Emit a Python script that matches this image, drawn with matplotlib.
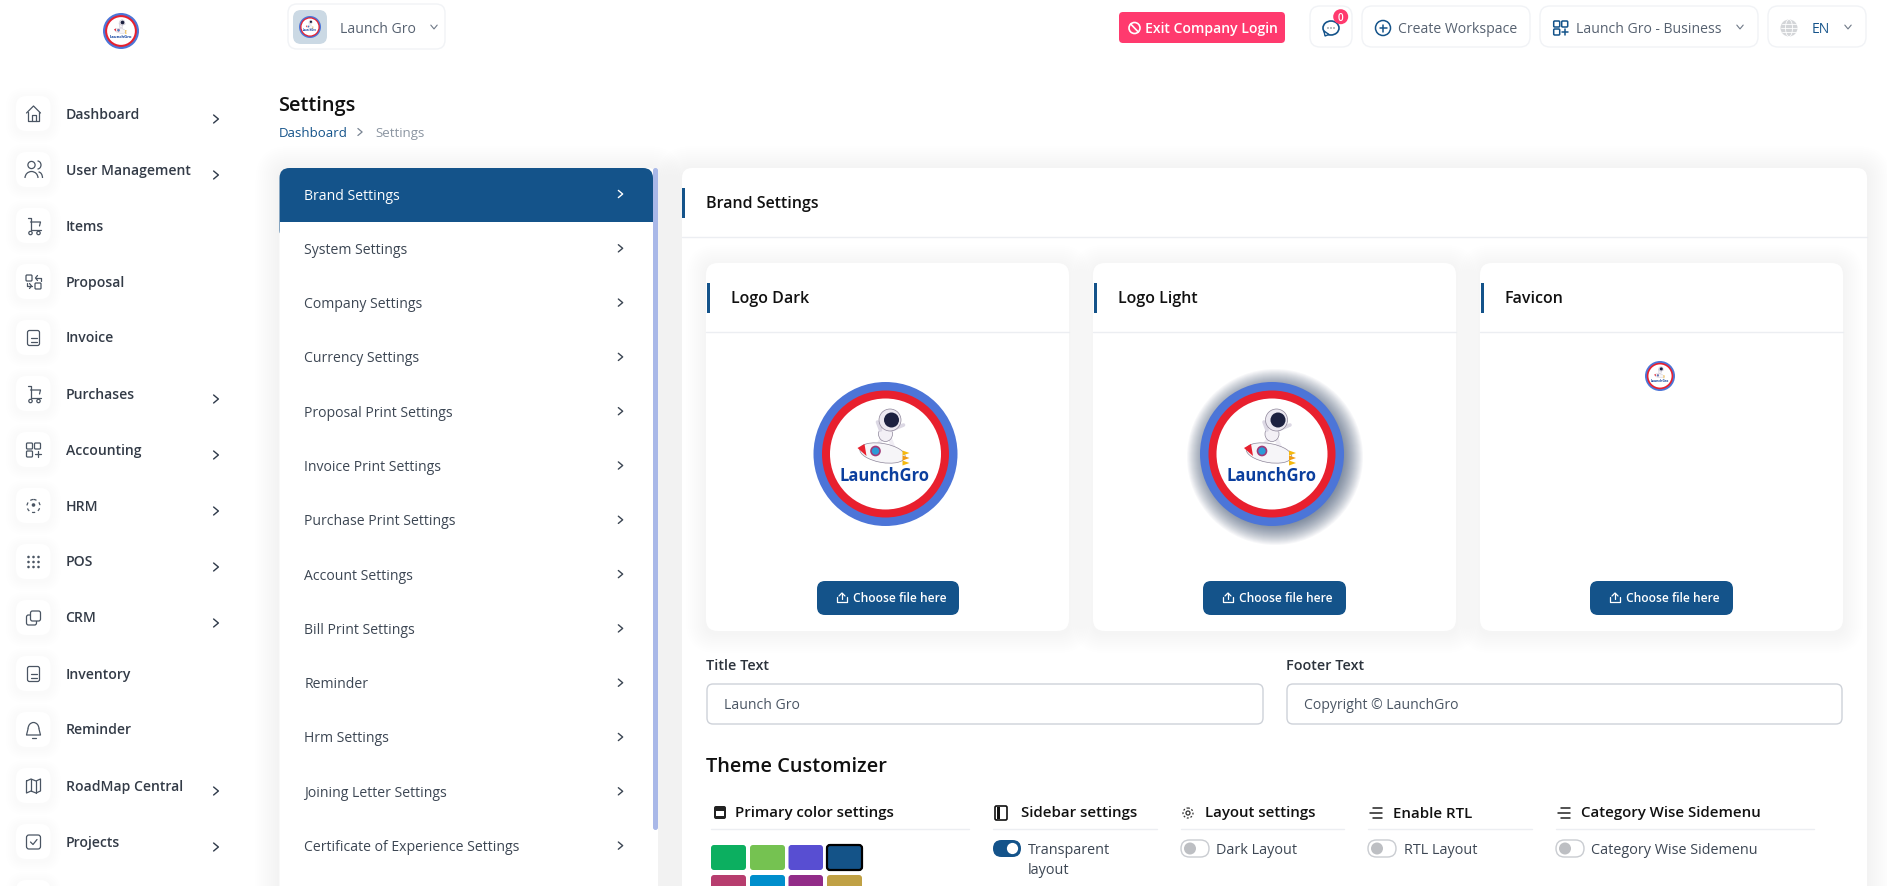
#!/usr/bin/env python3
"""Settings page of the LaunchGro dashboard, drawn in pixel coordinates."""

import numpy as np
import matplotlib
matplotlib.use("Agg")
import matplotlib.pyplot as plt
from matplotlib.patches import Circle, Ellipse, FancyBboxPatch, Polygon, Rectangle, Arc

W, H = 1887, 886
plt.rcParams["font.family"] = ["Open Sans", "DejaVu Sans"]

NAVY = "#14538a"
INK = "#2f3a4a"
BORDER = "#f1f3f6"

SIDEBAR_ITEMS = ["Dashboard", "User Management", "Items", "Proposal", "Invoice", "Purchases",
                 "Accounting", "HRM", "POS", "CRM", "Inventory", "Reminder",
                 "RoadMap Central", "Projects"]
SIDEBAR_ARROWS = [1, 1, 0, 0, 0, 1, 1, 1, 1, 1, 0, 0, 1, 1]
SIDEBAR_ICONS = ["home", "users", "cart", "swap", "file", "cart", "grid", "hrm", "dots", "crm",
                 "file", "bell", "map", "check"]
MENU_ITEMS = ["Brand Settings", "System Settings", "Company Settings", "Currency Settings",
              "Proposal Print Settings", "Invoice Print Settings", "Purchase Print Settings",
              "Account Settings", "Bill Print Settings", "Reminder", "Hrm Settings",
              "Joining Letter Settings", "Certificate of Experience Settings"]
LOGO_TITLES = ["Logo Dark", "Logo Light", "Favicon"]
FORM_LABELS = ["Title Text", "Footer Text"]
FORM_VALUES = ["Launch Gro", "Copyright © LaunchGro"]
THEME_HEADS = ["Primary color settings", "Sidebar settings", "Layout settings", "Enable RTL",
               "Category Wise Sidemenu"]
TOGGLE_LABELS = ["Dark Layout", "RTL Layout", "Category Wise Sidemenu"]
SWATCHES_TOP = ["#0caf60", "#75c251", "#584ed2", "#145388"]
SWATCHES_BOTTOM = ["#b73d6e", "#008ecc", "#922c88", "#c0a145"]

fig = plt.figure(figsize=(W / 100, H / 100), dpi=100, facecolor="white")
ax = fig.add_axes([0, 0, 1, 1])
ax.set_xlim(0, W)
ax.set_ylim(H, 0)
ax.axis("off")


def px(size):
    return size * 0.72


def rbox(x0, y0, x1, y1, r=8, fc="white", ec="none", lw=1, z=2, alpha=None):
    p = FancyBboxPatch((x0 + r, y0 + r), x1 - x0 - 2 * r, y1 - y0 - 2 * r,
                       boxstyle=f"round,pad={r},rounding_size={r}",
                       fc=fc, ec=ec, lw=lw, zorder=z, alpha=alpha)
    ax.add_patch(p)
    return p


def shadow(x0, y0, x1, y1, r=10, spread=16, color="#8a94b0", z=1, strength=0.012):
    for s in range(spread, 0, -2):
        rbox(x0 - s, y0 - s + 2, x1 + s, y1 + s + 2, r=r + s, fc=color, z=z, alpha=strength)


def label(x, y, s, size=14, color=INK, weight="normal", ha="left", z=6, **kw):
    return ax.text(x, y, s, fontsize=px(size), color=color, fontweight=weight, ha=ha,
                   va="center_baseline", zorder=z, **kw)


def line(xs, ys, color=INK, lw=1.0, z=6):
    ax.plot(xs, ys, color=color, lw=lw, solid_capstyle="round", solid_joinstyle="round", zorder=z)


def chevron_right(x, y, s=4, color=INK, lw=1.0):
    line([x - s * 0.6, x + s * 0.6, x - s * 0.6], [y - s, y, y + s], color, lw)


def chevron_down(x, y, s=3.2, color="#6f7987", lw=0.8):
    line([x - s, x, x + s], [y - s * 0.6, y + s * 0.6, y - s * 0.6], color, lw)


def icon(kind, x, y, c="#4a5563", lw=0.9):
    if kind == "home":
        line(np.array([-7, 0, 7]) + x, np.array([-1, -8, -1]) + y, c, lw)
        line(np.array([-5.5, -5.5, 5.5, 5.5]) + x, np.array([-2, 7, 7, -2]) + y, c, lw)
        line(np.array([-2, -2, 2, 2]) + x, np.array([7, 1, 1, 7]) + y, c, lw)
    elif kind == "users":
        ax.add_patch(Circle((x - 2, y - 5), 3.6, fc="none", ec=c, lw=lw, zorder=6))
        ax.add_patch(Arc((x - 2, y + 8), 13, 13, theta1=180, theta2=360, ec=c, lw=lw, zorder=6))
        ax.add_patch(Arc((x + 4, y - 5), 7, 8, theta1=270, theta2=90, ec=c, lw=lw, zorder=6))
        ax.add_patch(Arc((x + 5, y + 8), 8, 12, theta1=270, theta2=360, ec=c, lw=lw, zorder=6))
    elif kind == "cart":
        line(np.array([-6, -3, -3, 7]) + x, np.array([-8, -8, 4, 4]) + y, c, lw)
        line(np.array([-3, 7, 6]) + x, np.array([-4, -4, 0]) + y, c, lw)
        for dx in (-3, 5):
            ax.add_patch(Circle((x + dx, y + 7), 1.7, fc="none", ec=c, lw=lw, zorder=6))
    elif kind == "swap":
        for dx, dy in ((-4.5, -4), (4.5, 4)):
            rbox(x + dx - 3, y + dy - 3, x + dx + 3, y + dy + 3, r=1, fc="none", ec=c, lw=lw, z=6)
        line(np.array([2, 7, 7]) + x, np.array([-4, -4, -1]) + y, c, lw)
        line(np.array([4, 2, 4]) + x, np.array([-6.5, -4, -1.5]) + y, c, lw)
        line(np.array([-2, -7, -7]) + x, np.array([4, 4, 1]) + y, c, lw)
        line(np.array([-4, -2, -4]) + x, np.array([1.5, 4, 6.5]) + y, c, lw)
    elif kind == "file":
        rbox(x - 6, y - 7.5, x + 6, y + 7.5, r=2, fc="none", ec=c, lw=lw, z=6)
        line(np.array([-3, 3]) + x, np.array([0, 0]) + y, c, lw)
        line(np.array([-3, 3]) + x, np.array([3.5, 3.5]) + y, c, lw)
    elif kind == "grid":
        for dx, dy in ((-4, -4), (4, -4), (-4, 4)):
            rbox(x + dx - 3, y + dy - 3, x + dx + 3, y + dy + 3, r=1, fc="none", ec=c, lw=lw, z=6)
        line(np.array([4, 4]) + x, np.array([1, 7]) + y, c, lw)
        line(np.array([1, 7]) + x, np.array([4, 4]) + y, c, lw)
    elif kind == "hrm":
        ax.add_patch(Circle((x, y - 1), 1.8, fc=c, ec="none", zorder=6))
        ax.add_patch(Circle((x, y), 6.5, fc="none", ec=c, lw=lw, ls=(0, (2.5, 2.5)), zorder=6))
    elif kind == "dots":
        for dx in (-5, 0, 5):
            for dy in (-5, 0, 5):
                ax.add_patch(Circle((x + dx, y + dy), 1.3, fc=c, ec="none", zorder=6))
    elif kind == "crm":
        rbox(x - 7, y - 3, x + 3, y + 7, r=2, fc="none", ec=c, lw=lw, z=6)
        rbox(x - 3, y - 7, x + 7, y + 3, r=2, fc="white", ec=c, lw=lw, z=6)
    elif kind == "bell":
        ax.add_patch(Arc((x, y - 1), 11, 13, theta1=180, theta2=360, ec=c, lw=lw, zorder=6))
        line(np.array([-5.5, -7, 7, 5.5]) + x, np.array([-1, 5, 5, -1]) + y, c, lw)
        line(np.array([-2, 2]) + x, np.array([8, 8]) + y, c, lw)
    elif kind == "map":
        line(np.array([-7, -2.5, 2.5, 7, 7, 2.5, -2.5, -7, -7]) + x,
             np.array([-5, -7, -5, -7, 5, 7, 5, 7, -5]) + y, c, lw)
        line(np.array([-2.5, -2.5]) + x, np.array([-7, 5]) + y, c, lw)
        line(np.array([2.5, 2.5]) + x, np.array([-5, 7]) + y, c, lw)
    elif kind == "check":
        rbox(x - 7, y - 7, x + 7, y + 7, r=2.5, fc="none", ec=c, lw=lw, z=6)
        line(np.array([-3, -0.5, 3.5]) + x, np.array([0, 2.5, -2.5]) + y, c, lw)


def logo(cx, cy, r):
    k = r / 72
    ax.add_patch(Circle((cx, cy), r, fc="#4c75d8", ec="none", zorder=5))
    ax.add_patch(Circle((cx, cy), 63.5 * k, fc="#e8202e", ec="none", zorder=5))
    ax.add_patch(Circle((cx, cy), 55.5 * k, fc="white", ec="none", zorder=5))
    edge = "#8d8599"
    # astronaut standing on the rocket
    line([cx - 4 * k, cx - 9 * k], [cy - 14 * k, cy - 7 * k], "#f0edf4", 3.0 * k, 6)
    line([cx + 5 * k, cx + 8 * k], [cy - 14 * k, cy - 6 * k], "#f0edf4", 3.0 * k, 6)
    ax.add_patch(Ellipse((cx, cy - 20 * k), 14 * k, 15 * k, fc="#f3f0f6", ec=edge,
                         lw=0.5 * k, zorder=6))
    line([cx + 6 * k, cx + 18 * k], [cy - 24 * k, cy - 29 * k], "#dcd8e4", 2.6 * k, 6)
    line([cx - 5 * k, cx - 8 * k], [cy - 24 * k, cy - 32 * k], "#dcd8e4", 2.6 * k, 6)
    ax.add_patch(Circle((cx + 4.5 * k, cy - 34 * k), 11 * k, fc="#ece9f1", ec=edge,
                        lw=0.5 * k, zorder=6))
    ax.add_patch(Circle((cx + 6 * k, cy - 34 * k), 7.5 * k, fc="#1c2140", ec="none", zorder=7))
    # rocket body, nose, porthole, flames
    ax.add_patch(Ellipse((cx - 3 * k, cy - 1 * k), 46 * k, 19 * k, angle=10, fc="#f6f5f8",
                         ec=edge, lw=0.5 * k, zorder=6))
    ax.add_patch(Polygon([[cx - 28 * k, cy - 6 * k], [cx - 21 * k, cy - 10 * k],
                          [cx - 19 * k, cy + 2 * k]], fc="#e8202e", ec="none", zorder=7))
    ax.add_patch(Circle((cx - 10 * k, cy - 3 * k), 4.5 * k, fc="#2b9bd8",
                        ec="#a13a78", lw=1.2 * k, zorder=7))
    for dy, c in ((-1, "#f5b90f"), (4, "#f09a12"), (9, "#f5b90f")):
        ax.add_patch(Polygon([[cx + 17 * k, cy + (dy - 2.5) * k], [cx + 24 * k, cy + dy * k],
                              [cx + 17 * k, cy + (dy + 2.5) * k]], fc=c, ec="none", zorder=6))
    ax.text(cx - 1 * k, cy + 22 * k, "LaunchGro", fontsize=px(16.5 * k), color="#0b3f9e",
            fontweight="bold", ha="center", va="center", zorder=8)


# ---- top bar ----
logo(121, 31, 18)
rbox(288, 4, 445, 49, r=9, ec=BORDER)
rbox(293, 10, 327, 44, r=8, fc="#cbd9e4", z=3)
logo(310, 27, 11)
label(340, 27, "Launch Gro", color="#566170")
chevron_down(434, 27)

rbox(1119, 12, 1285, 43, r=4, fc="#ff3a6e")
ax.add_patch(Circle((1134.5, 28), 5.5, fc="none", ec="white", lw=1.2, zorder=6))
line([1130.7, 1138.3], [24, 32], "white", 1.2)
label(1145, 27, "Exit Company Login", color="white", weight=600)

for x0, x1 in ((1310, 1352), (1362, 1530), (1540, 1758), (1768, 1866)):
    rbox(x0, 6, x1, 47, r=10, ec=BORDER)
ax.add_patch(Ellipse((1331, 28), 16, 14, fc="none", ec=NAVY, lw=1.2, zorder=6))
ax.add_patch(Polygon([[1324, 31], [1325, 36], [1329, 34.5]], fc="white", ec=NAVY, lw=1.0, zorder=6))
for dx in (-3, 0, 3):
    ax.add_patch(Circle((1331 + dx, 28), 0.8, fc="#777f8a", ec="none", zorder=7))
ax.add_patch(Circle((1340.7, 16.7), 7.5, fc="#ff3a6e", ec="none", zorder=7))
label(1340.7, 16.7, "0", size=10, color="white", ha="center", weight=600, z=8)
ax.add_patch(Circle((1383, 28), 7.5, fc="none", ec=NAVY, lw=1.1, zorder=6))
line([1379.5, 1386.5], [28, 28], NAVY, 1.1)
line([1383, 1383], [24.5, 31.5], NAVY, 1.1)
label(1398, 27, "Create Workspace", color="#566170")
icon("grid", 1560.7, 28, NAVY, 1.1)
label(1576, 27, "Launch Gro - Business", color="#566170")
chevron_down(1740, 27)
ax.add_patch(Circle((1789, 28), 8.5, fc="#d3d5d8", ec="none", zorder=6))
ax.add_patch(Ellipse((1789, 28), 7, 17, fc="none", ec="white", lw=0.6, zorder=7))
line([1781, 1797], [28, 28], "white", 0.6, 7)
line([1782, 1796], [24, 24], "white", 0.6, 7)
line([1782, 1796], [32, 32], "white", 0.6, 7)
label(1812, 27, "EN", color=NAVY)
chevron_down(1848, 27)

# ---- left sidebar ----
for i, name in enumerate(SIDEBAR_ITEMS):
    y = 114 + 56 * i
    shadow(16, y - 18, 50.5, y + 17, r=10, spread=10, strength=0.009)
    rbox(16, y - 18, 50.5, y + 17, r=10)
    icon(SIDEBAR_ICONS[i], 33.5, y)
    label(65.5, y - 1, name, color="#333b47", weight=600)
    if SIDEBAR_ARROWS[i]:
        chevron_right(216, y + 5)
shadow(16, 880, 50.5, 915, r=10, spread=10, strength=0.009)
rbox(16, 880, 50.5, 915, r=10)

# ---- page title ----
label(278.5, 103, "Settings", size=20, color="#111111", weight=600)
label(279, 132, "Dashboard", size=13.2, color=NAVY)
chevron_right(360, 132, s=3.5, color="#7a8593", lw=0.9)
label(375, 132, "Settings", size=13.2, color="#8b95a1")

# ---- settings menu ----
shadow(279.5, 168, 658, 930, r=10, spread=24, strength=0.003)
rbox(279.5, 168, 658, 930, r=10)
rbox(279.5, 168, 653, 240, r=10, fc=NAVY, z=3)
ax.add_patch(Rectangle((279.5, 222), 374, 22, fc="white", ec="none", zorder=3))
rbox(653, 168, 658, 830, r=2.5, fc="#a9b8e8", z=4)
for i, name in enumerate(MENU_ITEMS):
    y = 195 + 54.3 * i
    c = "white" if i == 0 else "#3c4653"
    label(304.5, y - 1, name, color=c)
    chevron_right(620.5, y - 1, s=3.6, color=c)

# ---- main card ----
shadow(682, 168, 1867, 930, r=10, spread=24, strength=0.003)
rbox(682, 168, 1867, 930, r=10)
ax.add_patch(Rectangle((682, 188), 3, 30, fc=NAVY, ec="none", zorder=3))
line([682, 1867], [237, 237], "#eceef2", 1.0, 3)
label(706.5, 202, "Brand Settings", size=16, color="#111111", weight=600)

card_x = [(706, 1069), (1093, 1456), (1480, 1843)]
btn_x = [(817, 959), (1203, 1346), (1590, 1733)]
for (x0, x1), (b0, b1), title in zip(card_x, btn_x, LOGO_TITLES):
    shadow(x0, 263, x1, 631, r=12, spread=20, z=2, strength=0.006)
for (x0, x1), (b0, b1), title in zip(card_x, btn_x, LOGO_TITLES):
    rbox(x0, 263, x1, 631, r=12, z=3)
    line([x0, x1], [332, 332], "#eceef2", 1.0, 4)
    ax.add_patch(Rectangle((x0 + 1, 283), 3, 30, fc=NAVY, ec="none", zorder=4))
    label(x0 + 25, 297, title, size=16, color="#111111", weight=600)
    rbox(b0, 581, b1, 615, r=8, fc=NAVY, z=4)
    bx = b0 + 25
    line([bx - 5, bx - 5, bx + 5, bx + 5], [597, 602, 602, 597], "white", 0.9)
    line([bx, bx], [593, 599], "white", 0.9)
    line([bx - 3, bx, bx + 3], [596, 593, 596], "white", 0.9)
    label(b0 + 36, 597.5, "Choose file here", size=12, color="white", weight=600)

logo(885.5, 454, 72)
for s in range(16, -4, -1):
    ax.add_patch(Circle((1275, 457), 72 + s, fc="#1d3557", ec="none", alpha=0.035, zorder=4))
logo(1272, 454, 72)
logo(1660, 376, 15)

# ---- form ----
for x0, x1, name, value in zip((707, 1287), (1263, 1842), FORM_LABELS, FORM_VALUES):
    label(x0 - 1, 665, name, size=14.4, color="#2c333c", weight=600)
    rbox(x0, 684, x1, 724, r=6, ec="#ced2d9", z=3)
    label(x0 + 17, 703.5, value, color="#4a5563")

label(706.5, 765, "Theme Customizer", size=20, color="#111111", weight=600)

# ---- theme columns ----
div_x = [(711, 969), (993, 1157), (1181, 1344), (1368, 1532), (1556, 1814)]
head_x = [735, 1021, 1205, 1393, 1581]
for (x0, x1), tx, name in zip(div_x, head_x, THEME_HEADS):
    line([x0, x1], [829, 829], "#eceef2", 1.0, 3)
    label(tx, 812, name, size=15, color="#111111", weight=600)
# header icons
rbox(714, 806, 726, 819, r=2, fc="#222222", z=6)
ax.add_patch(Rectangle((716, 811), 8, 5, fc="white", ec="none", zorder=7))
rbox(995, 806, 1007, 820, r=1.5, fc="none", ec="#111111", lw=1.2, z=6)
ax.add_patch(Rectangle((997, 807), 3, 12, fc="#111111", ec="none", zorder=7))
ax.add_patch(Circle((1188, 813), 5, fc="none", ec="#333333", lw=0.9, ls=(0, (1.5, 1.5)), zorder=6))
ax.add_patch(Circle((1188, 813), 2, fc="none", ec="#333333", lw=0.9, zorder=6))
for cx in (1377, 1565):
    for dy, x_off in ((-5, 1), (0, -2), (5, 1)):
        line([cx - 5 + x_off, cx + 5], [813 + dy, 813 + dy], "#222222", 1.1)

for row_y, colors in ((845, SWATCHES_TOP), (875, SWATCHES_BOTTOM)):
    for (x0, x1), c in zip(((711, 746), (750, 785), (788.5, 823), (827, 862)), colors):
        rbox(x0, row_y, x1, row_y + 25, r=3, fc=c, z=4)
rbox(827, 845, 862, 870, r=3, fc=SWATCHES_TOP[3], ec="black", lw=1.6, z=5)

rbox(993, 840, 1021, 857, r=8.5, fc=NAVY, z=4)
ax.add_patch(Circle((1012.5, 848.5), 5.6, fc="white", ec="none", zorder=5))
label(1028, 848, "Transparent", size=14.4, color="#3c4653", weight=500)
label(1028, 869, "layout", size=14.4, color="#3c4653", weight=500)

for x0, tx, name in zip((1181, 1368, 1556), (1216.5, 1403.5, 1591), TOGGLE_LABELS):
    rbox(x0, 840, x0 + 28, 857, r=8.5, ec="#c9ccd1", z=4)
    ax.add_patch(Circle((x0 + 9, 848.5), 6, fc="#bdbfc3", ec="none", zorder=5))
    label(tx, 848, name, size=14.4, color="#3c4653", weight=500)

fig.savefig("out.png", dpi=100)
